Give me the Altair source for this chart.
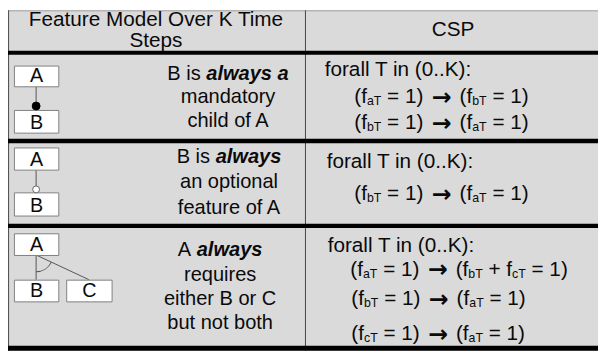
import math
import altair as alt
import pandas as pd

# ---------------- content (text of the table) ----------------
header_left = ["Feature Model Over K Time", "Steps"]
header_right = ["CSP"]

desc_lead = ["B is ", "B is ", "A "]
desc_emph = ["always a", "always", "always"]
desc_rest = [
    ["mandatory", "child of A"],
    ["an optional", "feature of A"],
    ["requires", "either B or C", "but not both"],
]

csp_quant = ["forall T in (0..K):", "forall T in (0..K):", "forall T in (0..K):"]
# tokens: "_xx" is a subscript, "->" the implication arrow
csp_formulas = [
    [["(f", "_aT", " = 1) ", "->", " (f", "_bT", " = 1)"],
     ["(f", "_bT", " = 1) ", "->", " (f", "_aT", " = 1)"]],
    [["(f", "_bT", " = 1) ", "->", " (f", "_aT", " = 1)"]],
    [["(f", "_aT", " = 1) ", "->", " (f", "_bT", " + f", "_cT", " = 1)"],
     ["(f", "_bT", " = 1) ", "->", " (f", "_aT", " = 1)"],
     ["(f", "_cT", " = 1) ", "->", " (f", "_aT", " = 1)"]],
]
feature_labels = [["A", "B"], ["A", "B"], ["A", "B", "C"]]

# ---------------- layout (pixel geometry of the table) ----------------
X0, X1 = 8, 606
Y0, Y1 = 8, 355
W, H = X1 - X0, Y1 - Y0
FONT = "Liberation Sans"
INK = "#0a0a0a"
BG = "#dadada"

TEXT_SIZE = 21
DESC_SIZE = 20.3
SUB_SIZE = 12.5
SUB_DY = 2.2
ARROW_W = 25
ARROW_DY = 1.8
ARROW_SIZE = 24

header_left_cx, header_left_y = 158, [24, 45.5]
header_right_cx, header_right_y = 459, 34

desc_cx = [231, 232, 223]
desc_y = [[78.3, 101.7, 126.7], [163, 188.5, 214], [257, 282, 307, 331.5]]

quant_x = [329, 331, 332]
quant_y = [75, 168.3, 253.3]
form_x = [[359, 359], [359], [355, 356, 356]]
form_y = [[101.7, 128.3], [200], [277, 306.7, 342]]

box_geom = [
    [(14, 59, 64, 85), (14, 59, 109, 132)],
    [(14, 59, 147, 169.5), (14, 59, 192.5, 216)],
    [(14, 59, 234, 256), (14, 59, 281, 303), (67, 113, 281, 303)],
]
BOX_CX = 36.5

REG = {' ': 278, '(': 333, ')': 333, '.': 278, ':': 278, '=': 584, '+': 584,
       '0': 556, '1': 556, 'A': 667, 'B': 667, 'C': 722, 'K': 667, 'T': 611,
       'a': 556, 'b': 556, 'c': 500, 'f': 278, 'i': 222, 's': 500}
BOLD = {'a': 556, 'l': 278, 'w': 778, 'y': 556, 's': 556, ' ': 278}


def tw(s, size, table=REG):
    return sum(table[ch] for ch in s) * size / 1000.0


# ---------------- build mark tables ----------------
center_txt, left_txt, emph_txt, sub_txt, arrow_txt, desc_txt, box_txt = ([] for _ in range(7))

for t, y in zip(header_left, header_left_y):
    center_txt.append(dict(x=header_left_cx, y=y, text=t))
center_txt.append(dict(x=header_right_cx, y=header_right_y, text=header_right[0]))

for i in range(3):
    lead, emph = desc_lead[i], desc_emph[i]
    total = tw(lead, DESC_SIZE) + tw(emph, DESC_SIZE, BOLD)
    start = desc_cx[i] - total / 2
    desc_txt.append(dict(x=start, y=desc_y[i][0], text=lead.strip(), al="left"))
    emph_txt.append(dict(x=start + tw(lead, DESC_SIZE), y=desc_y[i][0], text=emph))
    for t, y in zip(desc_rest[i], desc_y[i][1:]):
        desc_txt.append(dict(x=desc_cx[i], y=y, text=t, al="center"))

for i in range(3):
    left_txt.append(dict(x=quant_x[i], y=quant_y[i], text=csp_quant[i]))
    for toks, x, y in zip(csp_formulas[i], form_x[i], form_y[i]):
        cur = x
        for tok in toks:
            if tok == "->":
                arrow_txt.append(dict(x=cur + ARROW_W / 2, y=y + ARROW_DY, text="\u2192"))
                cur += ARROW_W
            elif tok.startswith("_"):
                sub_txt.append(dict(x=cur, y=y + SUB_DY, text=tok[1:]))
                cur += tw(tok[1:], SUB_SIZE)
            else:
                lead = len(tok) - len(tok.lstrip())
                left_txt.append(dict(x=cur + tw(" " * lead, TEXT_SIZE), y=y, text=tok.strip()))
                cur += tw(tok, TEXT_SIZE)

boxes = []
for labels, geoms in zip(feature_labels, box_geom):
    for lab, (bx0, bx1, by0, by1) in zip(labels, geoms):
        boxes.append(dict(x=bx0 + 0.5, x2=bx1 + 0.5, y=by0 + 0.5, y2=by1 + 0.5))
        box_txt.append(dict(x=(bx0 + bx1) / 2 + 0.5, y=by1 - 4, text=lab))

rules = [
    dict(x=X0, x2=X1, y=Y0 + 0.5, y2=Y0 + 0.5, w=1, c="#a0a0a0"),
    dict(x=X0 + 0.5, x2=X0 + 0.5, y=Y0, y2=353, w=1.2, c="#555555"),
    dict(x=309.5, x2=309.5, y=Y0, y2=353, w=1, c="#444444"),
    dict(x=X0, x2=X1, y=51, y2=51, w=4, c="#000000"),
    dict(x=X0, x2=X1, y=140.5, y2=140.5, w=4.5, c="#000000"),
    dict(x=X0, x2=X1, y=226.5, y2=226.5, w=4.5, c="#000000"),
    dict(x=X0, x2=X1, y=350.5, y2=350.5, w=5, c="#000000"),
]
# tree connectors
g = box_geom
connectors = [
    dict(x=BOX_CX, x2=BOX_CX, y=g[0][0][3], y2=g[0][1][2], w=1, c="#555555"),
    dict(x=BOX_CX, x2=BOX_CX, y=g[1][0][3], y2=g[1][1][2] - 6, w=1, c="#555555"),
    dict(x=BOX_CX, x2=BOX_CX, y=g[2][0][3], y2=g[2][1][2], w=1, c="#555555"),
    dict(x=BOX_CX, x2=(g[2][2][0] + g[2][2][1]) / 2, y=g[2][0][3], y2=g[2][2][2], w=1, c="#555555"),
]
circles = [
    dict(x=BOX_CX, y=g[0][1][2] - 4, fill="#000000", stroke="#000000", s=64),
    dict(x=BOX_CX, y=g[1][1][2] - 3, fill="#ffffff", stroke="#666666", s=49),
]

xs = alt.Scale(domain=[X0, X1], nice=False, zero=False)
ys = alt.Scale(domain=[Y0, Y1], nice=False, zero=False, reverse=True)
X = alt.X("x:Q", scale=xs, axis=None)
Y = alt.Y("y:Q", scale=ys, axis=None)

bg = alt.Chart(pd.DataFrame([dict(x=X0, x2=X1, y=Y0, y2=353)])).mark_rect(
    color=BG).encode(x=X, x2="x2:Q", y=Y, y2="y2:Q")

rule_layer = alt.Chart(pd.DataFrame(rules + connectors)).mark_rule().encode(
    x=X, x2="x2:Q", y=Y, y2="y2:Q",
    size=alt.Size("w:Q", scale=None), color=alt.Color("c:N", scale=None))

box_layer = alt.Chart(pd.DataFrame(boxes)).mark_rect(
    fill="#ffffff", stroke="#808080", strokeWidth=1).encode(
    x=X, x2="x2:Q", y=Y, y2="y2:Q")

circle_layer = alt.Chart(pd.DataFrame(circles)).mark_point(
    shape="circle", filled=True, strokeWidth=1, opacity=1).encode(
    x=X, y=Y, fill=alt.Fill("fill:N", scale=None),
    stroke=alt.Stroke("stroke:N", scale=None), size=alt.Size("s:Q", scale=None))

# angle between the two child connectors of the alternative group
ax, ay = BOX_CX, g[2][0][3]
cx_top = (g[2][2][0] + g[2][2][1]) / 2
th1 = math.atan2(cx_top - ax, -(g[2][2][2] - ay))
arc_layer = alt.Chart(pd.DataFrame([dict(k=0)])).mark_arc(
    x=ax - X0, y=ay - Y0, radius=17.5, radius2=16.5,
    theta=th1, theta2=math.pi, color="#555555").encode(opacity=alt.value(1))


def text_layer(rows, **kw):
    base = dict(font=FONT, color=INK, baseline="alphabetic")
    base.update(kw)
    return alt.Chart(pd.DataFrame(rows)).mark_text(**base).encode(x=X, y=Y, text="text:N")


layers = [
    bg, rule_layer, box_layer, circle_layer, arc_layer,
    text_layer(center_txt, align="center", fontSize=TEXT_SIZE),
    text_layer([r for r in desc_txt if r["al"] == "center"], align="center", fontSize=DESC_SIZE),
    text_layer([r for r in desc_txt if r["al"] == "left"], align="left", fontSize=DESC_SIZE),
    text_layer(emph_txt, align="left", fontSize=DESC_SIZE, fontWeight="bold", fontStyle="italic"),
    text_layer(left_txt, align="left", fontSize=TEXT_SIZE),
    text_layer(sub_txt, align="left", fontSize=SUB_SIZE),
    text_layer(arrow_txt, align="center", fontSize=ARROW_SIZE, font="DejaVu Sans", fontWeight="bold"),
    text_layer(box_txt, align="center", fontSize=20),
]

chart = alt.layer(*layers).properties(
    width=W, height=H, padding=0,
    autosize=alt.AutoSizeParams(type="none"),
).configure_view(stroke=None)

chart.save("out.html", embed_options={"renderer": "svg", "actions": False})
